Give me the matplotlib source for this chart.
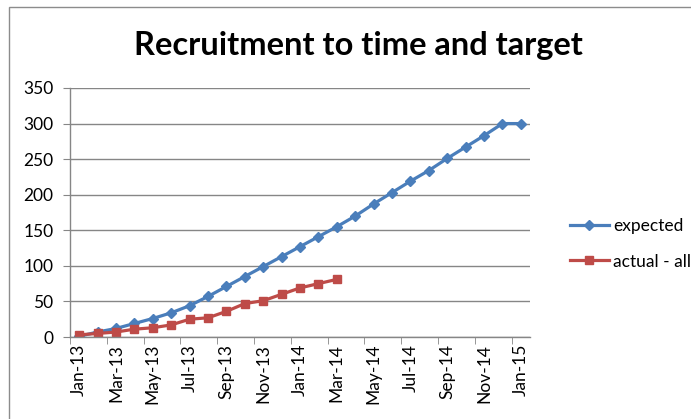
"""Recruitment to time and target - Excel style line chart"""
import matplotlib
matplotlib.use("Agg")
import matplotlib.pyplot as plt
from matplotlib.patches import Rectangle

months = ["Jan-13", "Feb-13", "Mar-13", "Apr-13", "May-13", "Jun-13", "Jul-13",
          "Aug-13", "Sep-13", "Oct-13", "Nov-13", "Dec-13", "Jan-14", "Feb-14",
          "Mar-14", "Apr-14", "May-14", "Jun-14", "Jul-14", "Aug-14", "Sep-14",
          "Oct-14", "Nov-14", "Dec-14", "Jan-15"]
expected = [1, 7, 12, 19, 26, 34, 44, 57, 71, 85, 99, 113, 127, 141, 155,
            170, 187, 203, 219, 234, 251, 267, 283, 300, 300]
actual_all = [3, 5, 7, 11, 13, 17, 25, 27, 36, 47, 51, 60, 69, 75, 81]
y_ticks = [0, 50, 100, 150, 200, 250, 300, 350]

BLUE = "#4A7EBB"
RED = "#BE4B48"
GRID = "#868686"

plt.rcParams['font.family'] = ['Lato', 'DejaVu Sans']

fig = plt.figure(figsize=(6.91, 4.19), dpi=100)
W, H = 691, 419

# chart area border
fig.patches.append(Rectangle((9 / W, -0.05), 1.1, 1 - 7 / H + 0.05,
                             transform=fig.transFigure, fill=False,
                             edgecolor="#8c8c8c", linewidth=1.0))

ax = fig.add_axes([70 / W, 1 - 337 / H, 460 / W, 249 / H])

x_exp = list(range(len(expected)))
x_act = list(range(len(actual_all)))
ax.plot(x_exp, expected, color=BLUE, linewidth=2.3, marker="D",
        markersize=5, label="expected", solid_joinstyle="round")
ax.plot(x_act, actual_all, color=RED, linewidth=2.3, marker="s",
        markersize=5.5, label="actual - all", solid_joinstyle="round")

ax.set_xlim(-0.5, len(months) - 0.5)
ax.set_ylim(0, 350)
ax.set_yticks(y_ticks)
ax.yaxis.grid(True, color=GRID, linewidth=1.0)
ax.set_axisbelow(True)

ax.set_xticks(range(0, len(months), 2))
ax.set_xticklabels(months[::2], rotation=90, fontsize=12.5)
ax.set_xticks([i - 0.5 for i in range(0, len(months), 2)], minor=True)
ax.tick_params(axis="x", which="major", length=0, pad=5)
ax.tick_params(axis="x", which="minor", length=5, color=GRID, direction="out")
ax.tick_params(axis="y", length=5, color=GRID, labelsize=12.5, pad=7)

for side in ("top", "right"):
    ax.spines[side].set_visible(False)
for side in ("left", "bottom"):
    ax.spines[side].set_color(GRID)
    ax.spines[side].set_linewidth(1.0)

fig.text(358 / W, 1 - 45 / H, "Recruitment to time and target",
         ha="center", va="center", fontsize=23.5, fontweight="bold")

fig.legend(loc="center left", bbox_to_anchor=(554 / W, 1 - 244 / H),
           frameon=False, fontsize=12.5, handlelength=2.25, labelspacing=1.1,
           handletextpad=0.25)

fig.savefig("out.png", dpi=100)
